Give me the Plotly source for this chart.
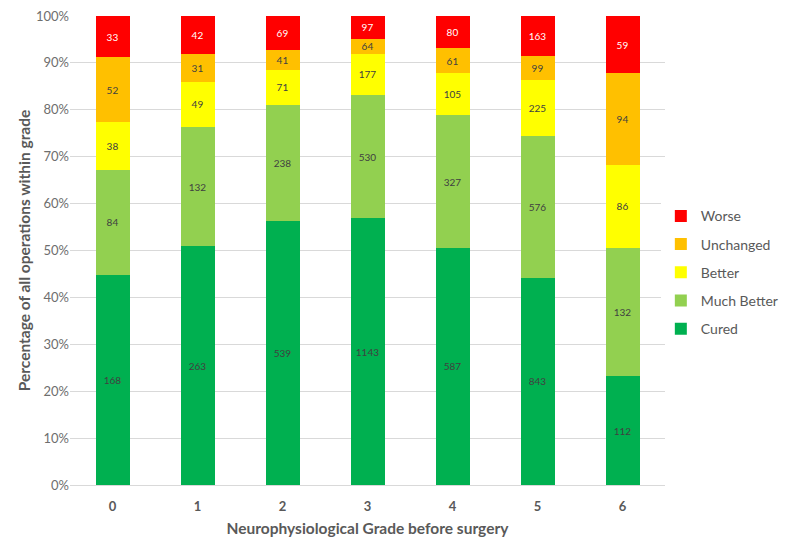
import plotly.graph_objects as go

grades = ['0', '1', '2', '3', '4', '5', '6']

cured = [168, 263, 539, 1143, 587, 843, 112]
much_better = [84, 132, 238, 530, 327, 576, 132]
better = [38, 49, 71, 177, 105, 225, 86]
unchanged = [52, 31, 41, 64, 61, 99, 94]
worse = [33, 42, 69, 97, 80, 163, 59]

# name, values, colour, label colour, legend rank (Worse on top)
series = [
    ('Cured', cured, '#00B050', '#404040', 5),
    ('Much Better', much_better, '#92D050', '#404040', 4),
    ('Better', better, '#FFFF00', '#404040', 3),
    ('Unchanged', unchanged, '#FFC000', '#404040', 2),
    ('Worse', worse, '#FF0000', '#FFFFFF', 1),
]

fig = go.Figure()
for name, vals, col, tcol, rank in series:
    fig.add_trace(go.Bar(
        x=grades, y=vals, name=name, legendgroup=name, legendrank=rank,
        marker=dict(color=col, line=dict(width=0)),
        text=vals, textposition='inside', insidetextanchor='middle',
        textangle=0, constraintext='none',
        textfont=dict(size=10, color=tcol),
        hoverinfo='x+y+name',
    ))

# page body has an 8px margin, so the figure is shrunk by 8px and margins moved
fig.update_layout(
    barmode='stack', barnorm='percent', bargap=0.6,
    width=783, height=533,
    margin=dict(l=62, r=126, t=8, b=56, autoexpand=False),
    paper_bgcolor='white', plot_bgcolor='white',
    font=dict(family='Lato, Open Sans, sans-serif', color='#595959', size=13),
    uniformtext=dict(minsize=10, mode='show'),
    legend=dict(
        x=0.993, y=0.607, xanchor='left', yanchor='top',
        traceorder='grouped', tracegroupgap=7,
        font=dict(size=14, color='#595959'),
        itemwidth=30,
    ),
    xaxis=dict(
        type='category', showline=True, linecolor='#D9D9D9', linewidth=1,
        ticks='', automargin=False, ticklabelstandoff=9,
        tickfont=dict(size=13, color='#595959', weight='bold'),
        title=dict(text='<b>Neurophysiological Grade before surgery</b>',
                   font=dict(size=15.5, color='#595959'), standoff=10),
    ),
    yaxis=dict(
        range=[0, 100], dtick=10, ticksuffix='%', automargin=False,
        ticklabeloverflow='allow',
        showgrid=True, gridcolor='#D9D9D9', zeroline=False,
        tickfont=dict(size=13, color='#6E6E6E'),
        title=dict(text='<b>Percentage of all operations within grade</b>',
                   font=dict(size=15.5, color='#595959'), standoff=1),
    ),
)

fig.write_html("out.html")
